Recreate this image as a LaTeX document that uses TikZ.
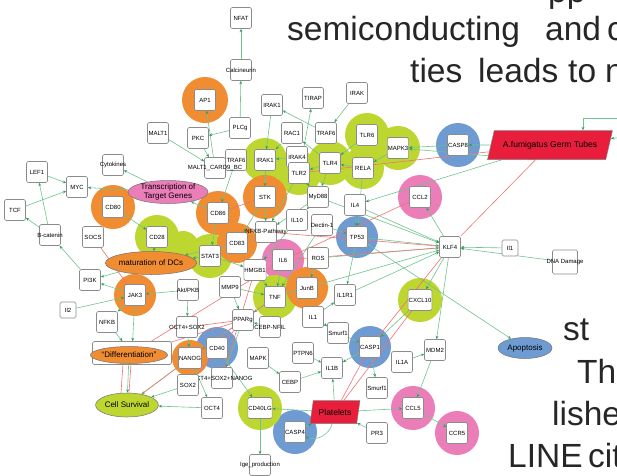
\documentclass[tikz,border=0pt]{standalone}
\usepackage{fontspec}
\setmainfont{Liberation Sans}
\usetikzlibrary{shapes.geometric,arrows.meta,backgrounds,calc}

\definecolor{hubor}{HTML}{F08C32}
\definecolor{hubgr}{HTML}{BED630}
\definecolor{hubbl}{HTML}{6E9BD2}
\definecolor{hubpk}{HTML}{EB7DB9}
\definecolor{stimred}{HTML}{E81E3C}
\definecolor{edgegr}{HTML}{6CC48E}
\definecolor{tipgr}{HTML}{2E9E5B}
\definecolor{edgerd}{HTML}{F27272}

\begin{document}
\begin{tikzpicture}[x=1pt, y=-1pt,
				gene/.style={rectangle, rounded corners=1.5pt, draw=black!45, fill=white, line width=0.6pt, minimum size=21pt, inner sep=0.5pt, font=\fontsize{6}{7}\selectfont},
				wide/.style={label={[font=\fontsize{6}{7}\selectfont, inner sep=0pt]center:#1}},
				pheno/.style={ellipse, draw=black!55, line width=0.5pt, inner sep=0pt, align=center, font=\fontsize{8}{8.5}\selectfont},
				stim/.style={trapezium, trapezium stretches=true, fill=stimred, draw=black!50, line width=0.5pt, font=\fontsize{8.5}{9}\selectfont},
				act/.style={draw=edgegr, line width=0.6pt, -{Stealth[length=3.4pt, width=2.8pt, color=tipgr]}},
				inh/.style={draw=edgerd, line width=0.6pt},
				paper/.style={anchor=base west, inner sep=0pt, text=black!85, font=\fontsize{33.5}{40}\selectfont}
			]
			\useasboundingbox (0,0) rectangle (617,475);
			% text of the page behind the figure
			\node[paper] (ppline) at (548,2) {pp};
			\node[paper] (semiconducting) at (287,40) {semiconducting};
			\node[paper] (andword) at (545,40) {and};
			\node[paper] (cword) at (607,40) {c};
			\node[paper] (ties) at (410,82) {ties};
			\node[paper] (leads) at (478,82) {leads};
			\node[paper] (toword) at (568,82) {to};
			\node[paper] (nword) at (605,82) {n};
			\node[paper] (stword) at (563,340) {st};
			\node[paper] (theword) at (577,383) {The};
			\node[paper] (lishe) at (552,425) {lishe};
			\node[paper] (lineword) at (508,467) {LINE};
			\node[paper] (cit) at (588,467) {cit};
			% top
			\node[gene] (nfat) at (241,18) {NFAT};
			\node[gene, wide=Calcineurin] (calcineurin) at (241,70) {};
			\node[gene] (apone) at (205,100) {AP1};
			\node[gene] (irakonetop) at (272,105) {IRAK1};
			\node[gene] (tirap) at (313,98) {TIRAP};
			\node[gene] (irak) at (357,93) {IRAK};
			\node[gene] (malt) at (158,133) {MALT1};
			\node[gene] (pkc) at (198,138) {PKC};
			\node[gene] (plcg) at (240,128) {PLCg};
			\node[gene] (rac) at (292,133) {RAC1};
			\node[gene] (trafsixtop) at (326,133) {TRAF6};
			\node[gene] (tlrsix) at (367,135) {TLR6};
			\node[gene] (mapkthree) at (398,148) {MAPK3};
			\node[gene] (caspeight) at (458,145) {CASP8};
			\node[stim, trapezium left angle=67.5, trapezium right angle=112.5, minimum width=125pt, minimum height=29pt] (germtubes) at (550,145) {A.fumigatus Germ Tubes};
			\node[gene] (trafsix) at (236,160) {TRAF6};
			\node[gene, wide=MALT1\_CARD9\_BC] (cardbc) at (215,168) {};
			\node[gene] (irakone) at (265,160) {IRAK1};
			\node[gene] (irakfour) at (297,157) {IRAK4};
			\node[gene] (tlrtwo) at (299,173) {TLR2};
			\node[gene] (tlrfour) at (330,163) {TLR4};
			\node[gene] (rela) at (363,168) {RELA};
			% left and middle
			\node[gene] (lef) at (37,172) {LEF1};
			\node[gene] (myc) at (77,187) {MYC};
			\node[gene, wide=Cytokines] (cytokines) at (113,165) {};
			\node[pheno, fill=hubpk, minimum width=80pt, minimum height=23pt] (transcription) at (168,192) {Transcription of\\Target Genes};
			\node[gene] (cdeighty) at (113,207) {CD80};
			\node[gene] (tcf) at (15,210) {TCF};
			\node[gene] (stk) at (265,197) {STK};
			\node[gene] (myd) at (318,197) {MyD88};
			\node[gene] (ilfour) at (355,205) {IL4};
			\node[gene] (ccltwo) at (420,197) {CCL2};
			\node[gene] (cdeightysix) at (218,213) {CD86};
			\node[gene, wide=B-catenin] (bcatenin) at (50,235) {};
			\node[gene] (socs) at (93,237) {SOCS};
			\node[gene] (cdtwentyeight) at (157,237) {CD28};
			\node[gene] (statthree) at (210,256) {STAT3};
			\node[gene] (cdeightythree) at (237,243) {CD83};
			\node[gene, wide=NFKB-Pathway] (nfkbpath) at (266,232) {};
			\node[gene] (ilten) at (297,220) {IL10};
			\node[gene, wide=Dectin-1] (dectin) at (322,225) {};
			\node[gene] (tpfiftythree) at (357,237) {TP53};
			\node[gene] (klf) at (450,247) {KLF4};
			\node[gene, minimum size=16pt] (ilsmall) at (510,248) {Il1};
			\node[gene, minimum width=25pt, minimum height=24pt, wide=DNA Damage] (dna) at (565,262) {};
			\node[pheno, fill=hubor, minimum width=88pt, minimum height=23pt] (maturation) at (151,263) {maturation of DCs};
			\node[gene] (ilsix) at (283,260) {IL6};
			\node[gene] (ros) at (318,258) {ROS};
			\node[gene] (hmgb) at (255,270) {HMGB1};
			\node[gene] (pithreek) at (90,280) {PI3K};
			\node[gene, wide=Akt/PKB] (akt) at (188,290) {};
			\node[gene] (jak) at (135,295) {JAK3};
			\node[gene] (mmp) at (230,287) {MMP9};
			\node[gene] (tnf) at (275,297) {TNF};
			\node[gene] (junb) at (307,288) {JunB};
			\node[gene] (ilonerone) at (345,295) {IL1R1};
			\node[gene] (cxcl) at (420,300) {CXCL10};
			\node[gene, minimum size=16pt] (iltwo) at (68,310) {Il2};
			\node[gene] (nfkb) at (107,322) {NFKB};
			\node[gene, wide=OCT4+SOX2] (octsox) at (187,327) {};
			\node[gene] (pparg) at (243,320) {PPARg};
			\node[gene, wide=CEBP-NFIL] (cebpnfil) at (270,327) {};
			\node[gene] (ilone) at (313,317) {IL1};
			\node[gene] (smurftop) at (338,333) {Smurf1};
			\node[gene] (caspone) at (370,347) {CASP1};
			\node[gene] (mdm) at (435,350) {MDM2};
			\node[pheno, fill=hubbl, minimum width=54pt, minimum height=21pt] (apoptosis) at (525,348) {Apoptosis};
			% bottom
			\node[gene, minimum width=79pt, minimum height=23pt] (diffbox) at (132,353) {};
			\node[pheno, fill=hubor, minimum width=72pt, minimum height=17pt] (differentiation) at (129,355) {“Differentiation”};
			\node[gene] (cdforty) at (217,348) {CD40};
			\node[gene] (nanog) at (190,358) {NANOG};
			\node[gene] (mapk) at (258,358) {MAPK};
			\node[gene] (ptpn) at (303,353) {PTPN6};
			\node[gene] (ilonea) at (402,362) {IL1A};
			\node[gene, wide=OCT4+SOX2+NANOG] (octsoxnanog) at (222,378) {};
			\node[gene] (soxtwo) at (188,385) {SOX2};
			\node[gene] (cebp) at (290,382) {CEBP};
			\node[gene] (ilonebeta) at (332,368) {IL1B};
			\node[gene] (smurf) at (377,388) {Smurf1};
			\node[pheno, fill=hubgr, minimum width=61pt, minimum height=24pt] (survival) at (127,405) {Cell Survival};
			\node[gene] (octfour) at (212,408) {OCT4};
			\node[gene] (cdfortylg) at (260,408) {CD40LG};
			\node[stim, trapezium left angle=77, trapezium right angle=103, minimum width=50pt, minimum height=23pt] (platelets) at (335,412) {Platelets};
			\node[gene] (cclfive) at (413,408) {CCL5};
			\node[gene] (caspfour) at (295,432) {CASP4};
			\node[gene] (prthree) at (377,433) {PR3};
			\node[gene] (ccrfive) at (457,433) {CCR5};
			\node[gene, wide=Ige\_production] (ige) at (260,465) {};
			\coordinate (offa) at (625,118);
			\coordinate (offb) at (625,137);
			\coordinate (bendtop) at (583,118);
			\coordinate (greenmid) at (183,247);
			\begin{scope}[on background layer]
			% halos
			\fill[hubbl] (caspeight) circle (22pt);
			\fill[hubbl] (tpfiftythree) circle (21pt);
			\fill[hubbl] (cdforty) circle (21pt);
			\fill[hubbl] (caspone) circle (21pt);
			\fill[hubbl] (caspfour) circle (22pt);
			\fill[hubpk] (ccltwo) circle (22pt);
			\fill[hubpk] (ilsix) circle (21pt);
			\fill[hubpk] (cclfive) circle (22pt);
			\fill[hubpk] (ccrfive) circle (22pt);
			\fill[hubgr] (irakone) circle (22pt);
			\fill[hubgr] (tlrtwo) circle (22pt);
			\fill[hubgr] (tlrfour) circle (22pt);
			\fill[hubgr] (rela) circle (21pt);
			\fill[hubgr] (tlrsix) circle (22pt);
			\fill[hubgr] (mapkthree) circle (22pt);
			\fill[hubgr] (cdtwentyeight) circle (22pt);
			\fill[hubgr] (statthree) circle (22pt);
			\fill[hubgr] (greenmid) circle (16pt);
			\fill[hubgr] (tnf) circle (22pt);
			\fill[hubgr] (cxcl) circle (22pt);
			\fill[hubgr] (cdfortylg) circle (22pt);
			\fill[hubor] (apone) circle (23pt);
			\fill[hubor] (cdeighty) circle (22pt);
			\fill[hubor] (stk) circle (22pt);
			\fill[hubor] (cdeightysix) circle (22pt);
			\fill[hubor] (cdeightythree) circle (20pt);
			\fill[hubor] (jak) circle (21pt);
			\fill[hubor] (junb) circle (21pt);
			\fill[hubor] (nanog) circle (18pt);
			% green connectors
			\draw[act] (calcineurin) -- (nfat);
			\draw[act] (plcg) -- (calcineurin);
			\draw[act] (cardbc) -- (apone);
			\draw[act] (malt) -- (cardbc);
			\draw[act] (pkc) -- (cardbc);
			\draw[act] (plcg) -- (pkc);
			\draw[act] (irakonetop) -- (irakone);
			\draw[act] (trafsixtop) -- (irakonetop);
			\draw[act] (irak) -- (trafsixtop);
			\draw[act] (tlrtwo) -- (tirap);
			\draw[act] (tlrfour) -- (rac);
			\draw[act] (rac) -- (irakone);
			\draw[act] (irakfour) -- (irakone);
			\draw[act] (tlrsix) -- (tlrfour);
			\draw[act] (tlrfour) -- (tlrtwo);
			\draw[act] (rela) -- (tlrfour);
			\draw[act] (mapkthree) -- (rela);
			\draw[act] (germtubes) -- (caspeight);
			\draw[act] (germtubes.south west) -- (mapkthree);
			\draw[act] (caspeight) -- (mapkthree);
			\draw[act] (germtubes) -- (ilfour);
			\draw[act] (offa) -- (bendtop) -- (bendtop |- germtubes.north);
			\draw[act] (offb) -- (germtubes);
			\draw[act] (tlrfour) -- (myd);
			\draw[act] (tlrtwo) -- (myd);
			\draw[act] (irakone) -- (stk);
			\draw[act] (trafsix) -- (cdeightysix);
			\draw[act] (tlrtwo) -- (nfkbpath);
			\draw[act] (myd) -- (ilten);
			\draw[act] (myd) -- (nfkbpath);
			\draw[act] (rela) -- (tpfiftythree);
			\draw[act] (ilfour) -- (tpfiftythree);
			\draw[act] (dectin) -- (tpfiftythree);
			\draw[act] (tpfiftythree) -- (klf);
			\draw[act] (myd) -- (klf);
			\draw[act] (ilfour) -- (klf);
			\draw[act] (ros) -- (klf);
			\draw[act] (ilonerone) -- (klf);
			\draw[act] (tnf) -- (klf);
			\draw[act] (klf) -- (cxcl);
			\draw[act] (klf) -- (mdm);
			\draw[act] (klf) -- (ccltwo);
			\draw[act] (ilsmall) -- (klf);
			\draw[act] (dna) -- (klf);
			\draw[act] (tpfiftythree) -- (apoptosis);
			\draw[act] (cdeightysix) -- (transcription);
			\draw[act] (transcription) -- (cytokines);
			\draw[act] (transcription) -- (myc);
			\draw[act] (lef) -- (myc);
			\draw[act] (tcf) -- (myc);
			\draw[act] (bcatenin) -- (lef);
			\draw[act] (bcatenin) -- (tcf);
			\draw[act] (pithreek) -- (bcatenin);
			\draw[act] (cdtwentyeight) -- (maturation);
			\draw[act] (maturation) -- (pithreek);
			\draw[act] (jak) -- (pithreek);
			\draw[act] (iltwo) -- (jak);
			\draw[act] (jak) -- (nfkb);
			\draw[act] (jak) -- (diffbox);
			\draw[act] (akt) -- (jak);
			\draw[act] (cdeightythree) -- (maturation);
			\draw[act] (cdeighty) -- (cdtwentyeight);
			\draw[act] (statthree) -- (maturation);
			\draw[act] (cdeightysix) -- (statthree);
			\draw[act] (stk) -- (nfkbpath);
			\draw[act] (stk) -- (cdeightythree);
			\draw[act] (ilsix) -- (tnf);
			\draw[act] (hmgb) -- (tnf);
			\draw[act] (mmp) -- (tnf);
			\draw[act] (tnf) -- (pparg);
			\draw[act] (ilone) -- (ilonerone);
			\draw[act] (ros) -- (junb);
			\draw[act] (ilone) -- (smurftop);
			\draw[act] (smurftop) -- (caspone);
			\draw[act] (caspone) -- (smurf);
			\draw[act] (caspone) -- (ilonebeta);
			\draw[act] (cebp) -- (ilonebeta);
			\draw[act] (platelets) -- (ilonebeta);
			\draw[act] (platelets) -- (cclfive);
			\draw[act] (platelets) -- (cdfortylg);
			\draw[act] (caspfour) -- (platelets);
			\draw[act] (platelets) to[bend left=50] (caspfour);
			\draw[act] (prthree) -- (platelets);
			\draw[act] (mdm) -- (cclfive);
			\draw[act] (ilonea) -- (mdm);
			\draw[act] (cclfive) -- (ccrfive);
			\draw[act] (cdfortylg) -- (ige);
			\draw[act] (cdforty) -- (cdfortylg);
			\draw[act] (ptpn) -- (ilonebeta);
			\draw[act] (mapk) -- (cebp);
			\draw[act] (octfour) -- (survival);
			\draw[act] (soxtwo) -- (survival);
			\draw[act] (nanog) -- (survival);
			\draw[act] (differentiation) -- (survival);
			\draw[act] (octsox) -- (nanog);
			\draw[act] (nanog) -- (octfour);
			\draw[act] (pparg) -- (nanog);
			\draw[act] (pparg) -- (octsoxnanog);
			\draw[act] (cebpnfil) -- (pparg);
			\draw[act] (nfkb) -- (diffbox);
			\draw[act] (cxcl) -- (caspone);
			\draw[act] (tpfiftythree) -- (ilonerone);
			\draw[act] (dectin) -- (tnf);
			\draw[act] (ilten) -- (hmgb);
			\draw[act] (akt) -- (octsox);
			\draw[act] (mmp) -- (pparg);
			\draw[act] (statthree) -- (hmgb);
			% red connectors
			\draw[inh] (cdeightysix) -- (stk);
			\draw[inh] (socs) -- (jak);
			\draw[inh] (germtubes) -- (klf);
			\draw[inh] (germtubes) -- (tlrtwo);
			\draw[inh] (klf) -- (ilsix);
			\draw[inh] (klf) -- (nfkbpath);
			\draw[inh] (klf) -- (caspone);
			\draw[inh] (ccltwo) -- (ilsix);
			\draw[inh] (cxcl) -- (platelets);
			\draw[inh] (caspone) -- (platelets);
			\draw[inh] (pparg) -- (soxtwo);
			\draw[inh] (pparg) -- (differentiation);
			\draw[inh] (ilsix) -- (differentiation);
			\draw[inh] (tnf) -- (nanog);
			\draw[inh] (octsox) -- (pparg);
			\draw[inh] (nanog) -- (differentiation);
			\draw[inh] ([xshift=-6pt]differentiation.south) -- ([xshift=-6pt]survival.north);
			\draw[inh] ([xshift=2pt]differentiation.south) -- ([xshift=2pt]survival.north);
			\draw[inh] (nanog) -- (survival);
			\draw[inh] (hmgb) -- (octsoxnanog);
			\end{scope}
			\end{tikzpicture}
\end{document}
